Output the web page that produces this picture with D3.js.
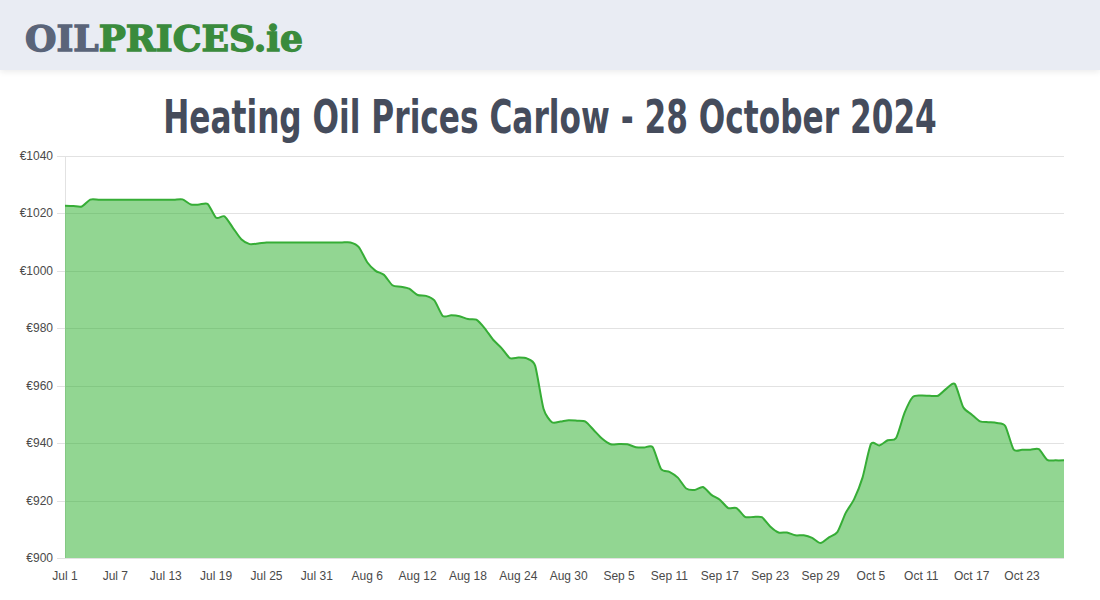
<!DOCTYPE html>
<html>
<head>
<meta charset="utf-8">
<script src="https://cdn.jsdelivr.net/npm/d3@7"></script>
<style>
  html, body { margin: 0; padding: 0; background: #fff; }
  body { width: 1100px; height: 600px; overflow: hidden; position: relative; font-family: "Liberation Sans", Arial, sans-serif; }
  #header { position: absolute; left: 0; top: 0; width: 1100px; height: 70px; background: #e9ecf3; box-shadow: 0 2px 6px rgba(0,0,0,0.08); }
  svg { position: absolute; left: 0; top: 0; }
</style>
</head>
<body>
<div id="header"></div>
<svg id="chart" width="1100" height="600"></svg>
<script>
// ---- data ----
const titleText = "Heating Oil Prices Carlow - 28 October 2024";
const startDate = "2024-07-01";
const endDate = "2024-10-28";
// daily prices (EUR), Jul 1 .. Oct 28
const prices = [
  1022.7, 1022.6, 1022.4, 1024.8, 1024.8, 1024.8, 1024.8, 1024.8, 1024.8, 1024.8,
  1024.8, 1024.8, 1024.8, 1024.8, 1024.9, 1023.1, 1023.1, 1023.3, 1018.5, 1019.0,
  1015.0, 1011.0, 1009.3, 1009.5, 1009.9, 1009.9, 1009.9, 1009.9, 1009.9, 1009.9,
  1009.9, 1009.9, 1009.9, 1009.9, 1009.9, 1008.3, 1003.0, 1000.0, 998.6, 995.0,
  994.5, 993.8, 991.6, 991.3, 989.7, 984.3, 984.5, 984.2, 983.2, 983.0,
  980.0, 976.0, 973.1, 969.6, 969.8, 969.5, 967.0, 952.0, 947.3, 947.5,
  948.0, 947.8, 947.5, 944.5, 941.5, 939.6, 939.7, 939.6, 938.6, 938.5,
  938.6, 931.0, 930.0, 928.0, 924.2, 923.7, 924.7, 922.0, 920.3, 917.4,
  917.4, 914.3, 914.3, 914.2, 911.0, 908.9, 908.9, 907.9, 907.9, 907.0,
  905.2, 907.2, 909.0, 915.7, 920.5, 928.0, 939.7, 939.2, 941.0, 941.8,
  950.5, 956.1, 956.6, 956.5, 956.5, 959.0, 960.6, 952.5, 950.0, 947.6,
  947.3, 947.0, 946.0, 937.8, 937.7, 937.7, 937.9, 934.2, 934.0, 934.0
];
const yTicks = [900, 920, 940, 960, 980, 1000, 1020, 1040];
const xTickLabels = ["Jul 1","Jul 7","Jul 13","Jul 19","Jul 25","Jul 31","Aug 6","Aug 12","Aug 18","Aug 24","Aug 30","Sep 5","Sep 11","Sep 17","Sep 23","Sep 29","Oct 5","Oct 11","Oct 17","Oct 23"];

// ---- build ----
const parse = d3.timeParse("%Y-%m-%d");
const t0 = parse(startDate);
const data = prices.map((v, i) => ({ date: d3.timeDay.offset(t0, i), value: v }));
const xTickDates = xTickLabels.map(s => d3.timeParse("%b %d %Y")(s + " 2024"));

const svg = d3.select("#chart");
const L = 65, R = 1064, T = 156, B = 558;

const x = d3.scaleTime().domain([t0, parse(endDate)]).range([L, R]);
const y = d3.scaleLinear().domain([900, 1040]).range([B, T]);

// logo
const logo = svg.append("text")
  .attr("x", 25).attr("y", 51)
  .attr("font-family", "'DejaVu Serif', serif")
  .attr("font-weight", "bold")
  .attr("font-size", 35)
  .attr("stroke-width", 1.3)
  .attr("textLength", 278)
  .attr("lengthAdjust", "spacingAndGlyphs");
logo.append("tspan").attr("fill", "#5a6479").attr("stroke", "#5a6479").text("OIL");
logo.append("tspan").attr("fill", "#3a8b3c").attr("stroke", "#3a8b3c").text("PRICES.ie");

// title (horizontally scaled to fit the reference width)
const title = svg.append("text")
  .attr("x", 0).attr("y", 0)
  .attr("text-anchor", "middle")
  .attr("font-family", "'DejaVu Sans', sans-serif")
  .attr("font-weight", "bold")
  .attr("font-size", 46)
  .attr("fill", "#454c5c")
  .text(titleText);
const natW = title.node().getComputedTextLength();
title.attr("transform", `translate(550,133) scale(${774 / natW},1)`);

// grid
const grid = svg.append("g");
grid.selectAll("line.h").data(yTicks).join("line")
  .attr("x1", L - 8).attr("x2", R)
  .attr("y1", d => Math.round(y(d)) + 0.5).attr("y2", d => Math.round(y(d)) + 0.5)
  .attr("stroke", "#e2e2e2").attr("stroke-width", 1);
grid.append("line")
  .attr("x1", L + 0.5).attr("x2", L + 0.5).attr("y1", T).attr("y2", B)
  .attr("stroke", "#e2e2e2");

// y labels
svg.append("g").selectAll("text").data(yTicks).join("text")
  .attr("x", 53).attr("y", d => y(d) + 4)
  .attr("text-anchor", "end")
  .attr("font-size", 12)
  .attr("fill", "#4a4a4a")
  .text(d => "€" + d);

// x labels
svg.append("g").selectAll("text").data(xTickDates).join("text")
  .attr("x", d => x(d)).attr("y", 580)
  .attr("text-anchor", "middle")
  .attr("font-size", 12)
  .attr("fill", "#4a4a4a")
  .text((d, i) => xTickLabels[i]);

// area + line
const curve = d3.curveCardinal.tension(0.3);
const area = d3.area().x(d => x(d.date)).y0(B).y1(d => y(d.value)).curve(curve);
const line = d3.line().x(d => x(d.date)).y(d => y(d.value)).curve(curve);

svg.append("path").datum(data)
  .attr("d", area)
  .attr("fill", "rgba(37,173,37,0.5)");
svg.append("path").datum(data)
  .attr("d", line)
  .attr("fill", "none")
  .attr("stroke", "#36ad36")
  .attr("stroke-width", 2);
</script>
</body>
</html>
